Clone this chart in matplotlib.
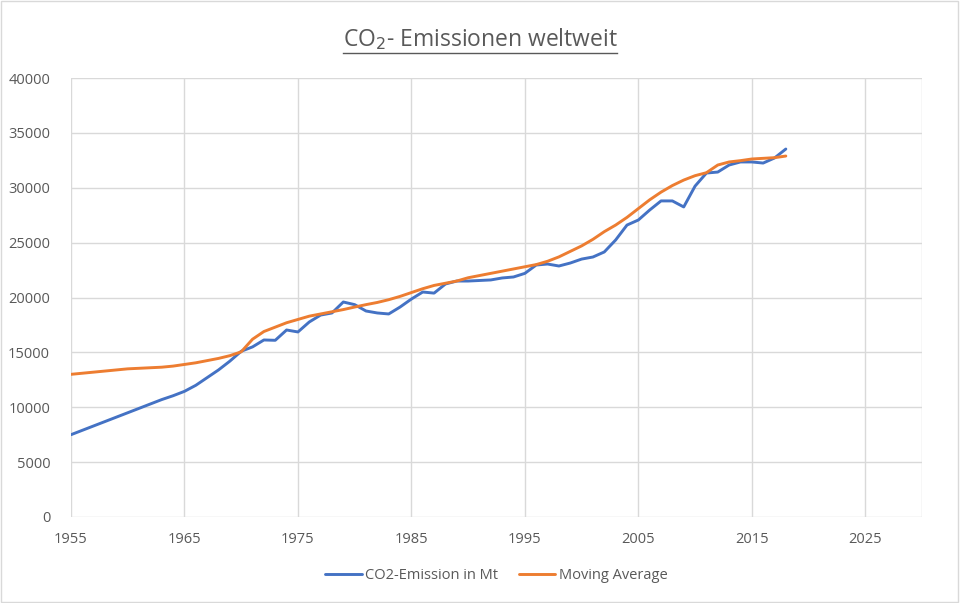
import numpy as np
import matplotlib
matplotlib.use("Agg")
import matplotlib.pyplot as plt
from matplotlib.patches import Rectangle
from matplotlib.lines import Line2D

plt.rcParams['font.family'] = ['Open Sans', 'DejaVu Sans']

# Werte
jahre = list(range(1955, 2019))

co2_emission = [7500, 7900, 8300, 8700, 9100, 9500, 9900, 10300, 10700, 11050,
                11450, 12000, 12700, 13400, 14200, 15100,
                15500, 16130, 16100, 17040, 16860, 17770, 18400, 18590, 19590, 19350,
                18770, 18590, 18500, 19130, 19860, 20500, 20400, 21230, 21500, 21500,
                21550, 21600, 21780, 21870, 22200, 22960, 23050, 22870, 23140, 23500,
                23690, 24150, 25240, 26600, 27060, 27970, 28800, 28800, 28250, 30150,
                31340, 31430, 32070, 32350, 32350, 32250, 32710, 33530]

moving_avg = [13000, 13100, 13200, 13300, 13400, 13500, 13550, 13600, 13650, 13750,
              13900, 14050, 14250, 14450, 14700, 15050,
              16200, 16900, 17300, 17700, 18000, 18300, 18500, 18700, 18900, 19130,
              19350, 19550, 19800, 20100, 20450, 20800, 21100, 21300, 21500, 21800,
              22000, 22200, 22400, 22600, 22800, 23000, 23300, 23700, 24200, 24700,
              25300, 26000, 26600, 27300, 28100, 28900, 29600, 30200, 30700, 31100,
              31370, 32070, 32350, 32470, 32620, 32680, 32740, 32890]

x_ticks = list(range(1955, 2030, 10))
y_ticks = list(range(0, 40001, 5000))

blau = '#4472C4'
orange = '#ED7D31'
grau = '#595959'
gitter = '#D9D9D9'

fig = plt.figure(figsize=(9.6, 6.03), dpi=100)
ax = fig.add_axes([71/960, 1 - 517/603, (922-71)/960, (517-78)/603])

ax.plot(jahre, co2_emission, color=blau, lw=2.1, solid_capstyle='round',
        solid_joinstyle='round', label='CO2-Emission in Mt')
ax.plot(jahre, moving_avg, color=orange, lw=2.1, solid_capstyle='round',
        solid_joinstyle='round', label='Moving Average')

ax.set_xlim(1955, 2030)
ax.set_ylim(0, 40000)
ax.set_xticks(list(range(1955, 2031, 10)) + [2030])
ax.set_xticklabels([str(t) for t in x_ticks] + [''])
ax.set_yticks(y_ticks)
ax.set_yticklabels([str(t) for t in y_ticks])
ax.grid(True, color=gitter, lw=1.0)
ax.set_axisbelow(True)
for s in ax.spines.values():
    s.set_visible(False)
ax.tick_params(length=0, labelsize=10.5, colors=grau)
ax.tick_params(axis='y', pad=15)
ax.tick_params(axis='x', pad=11)

# Titel mit Unterstreichung
titel = fig.text(0.5, 1 - 39/603, 'CO$_2$- Emissionen weltweit', ha='center', va='center',
                 fontsize=16.5, color=grau)
fig.canvas.draw()
bb = titel.get_window_extent(fig.canvas.get_renderer())
fig.add_artist(Line2D([bb.x0/960, bb.x1/960], [1 - 53/603, 1 - 53/603],
                      color=grau, lw=1.0, transform=fig.transFigure))

ax.legend(loc='center', bbox_to_anchor=(0.5, -0.134), ncol=2, frameon=False,
          fontsize=10.5, labelcolor=grau, handlelength=2.5, columnspacing=1.4,
          handletextpad=0.25)

fig.add_artist(Rectangle((0.001, 0.001), 0.997, 0.997, transform=fig.transFigure,
                         fill=False, edgecolor=gitter, lw=1.0))

fig.savefig('out.png', dpi=100, facecolor='white')
